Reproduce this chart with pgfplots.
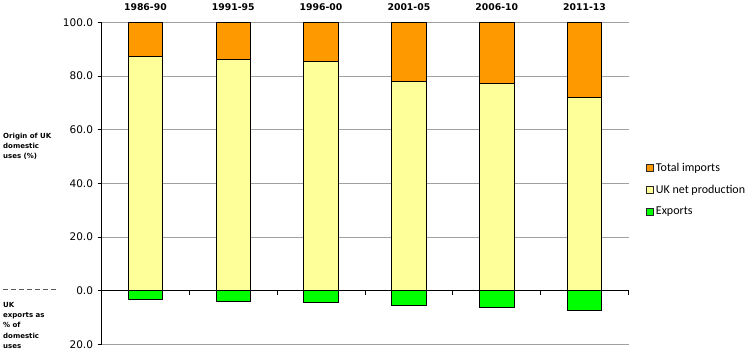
\documentclass[border=0pt]{standalone}
\usepackage{fontspec}
\setmainfont{DejaVu Sans}
\newfontfamily\carlito{Carlito}
\usepackage{pgfplots}
\pgfplotsset{compat=1.18}
\definecolor{cimp}{HTML}{FF9900}
\definecolor{cprod}{HTML}{FFFF99}
\definecolor{cexp}{HTML}{00FF00}
\definecolor{gridc}{HTML}{A0A0A0}
\pgfplotsset{common/.style={at={(101.5pt,15.5pt)}, anchor=south west,
  width=527pt, height=322.2pt, scale only axis,
  xmin=-0.5, xmax=5.5, ymin=-20, ymax=100, clip=false}}
\begin{document}
\begin{tikzpicture}
\useasboundingbox (0,0) rectangle (754pt,360pt);
\begin{axis}[common, ybar stacked, bar width=34.5pt,
  axis x line*=middle, axis y line*=left,
  axis line style={black, line width=0.8pt},
  xtick={0.5,1.5,2.5,3.5,4.5,5.5}, xticklabels={,,,,,},
  ytick={-20,0,20,40,60,80,100},
  yticklabels={20.0,0.0,20.0,40.0,60.0,80.0,100.0},
  tick align=outside, major tick length=4pt,
  tick style={black, line width=0.8pt},
  ymajorgrids, grid style={gridc, line width=1pt},
  yticklabel style={font=\fontsize{10.5}{12}\selectfont, xshift=-1pt},
  hide obscured x ticks=false, hide obscured y ticks=false,
  legend style={draw=none, fill=none, at={(1.033,0.48)}, anchor=west,
    font=\carlito\fontsize{12}{14}\selectfont, inner sep=0pt,
    row sep=8pt, legend cell align=left},
  legend image code/.code={\draw[#1, draw=black!85, line width=0.8pt] (0pt,-3.5pt) rectangle (7pt,3.5pt);},
]
\addlegendimage{fill=cimp}
\addlegendentry{Total imports}
\addlegendimage{fill=cprod}
\addlegendentry{UK net production}
\addlegendimage{fill=cexp}
\addlegendentry{Exports}
\addplot[fill=cprod, draw=black, line width=0.8pt, forget plot] coordinates
  {(0,87.2) (1,86.2) (2,85.3) (3,77.9) (4,77.3) (5,71.9)};
\addplot[fill=cimp, draw=black, line width=0.8pt, forget plot] coordinates
  {(0,12.8) (1,13.8) (2,14.7) (3,22.1) (4,22.7) (5,28.1)};
\foreach \i/\lab in {0/1986-90,1/1991-95,2/1996-00,3/2001-05,4/2006-10,5/2011-13}{
  \edef\tmp{\noexpand\node[anchor=base, font=\noexpand\bfseries\noexpand\fontsize{9.3}{11}\noexpand\selectfont, yshift=11.6pt] at (axis cs:\i,100) {\lab};}
  \tmp
}
\end{axis}
\begin{axis}[common, hide axis, ybar, bar width=34.5pt]
\addplot[fill=cexp, draw=black, line width=0.8pt, bar shift=0pt] coordinates
  {(0,-3.2) (1,-3.8) (2,-4.5) (3,-5.3) (4,-6.0) (5,-7.3)};
\end{axis}
\node[anchor=north west, inner sep=0pt, align=left, font=\bfseries\fontsize{7}{10}\selectfont] at (3pt,227pt) {Origin of UK\\domestic\\uses (\%)};
\draw[black!65, line width=1pt, dash pattern=on 4.5pt off 3.5pt] (3pt,71pt) -- (56pt,71pt);
\node[anchor=north west, inner sep=0pt, align=left, font=\bfseries\fontsize{7}{10.25}\selectfont] at (3pt,58pt) {UK\\exports as\\\% of\\domestic\\uses};
\end{tikzpicture}
\end{document}
